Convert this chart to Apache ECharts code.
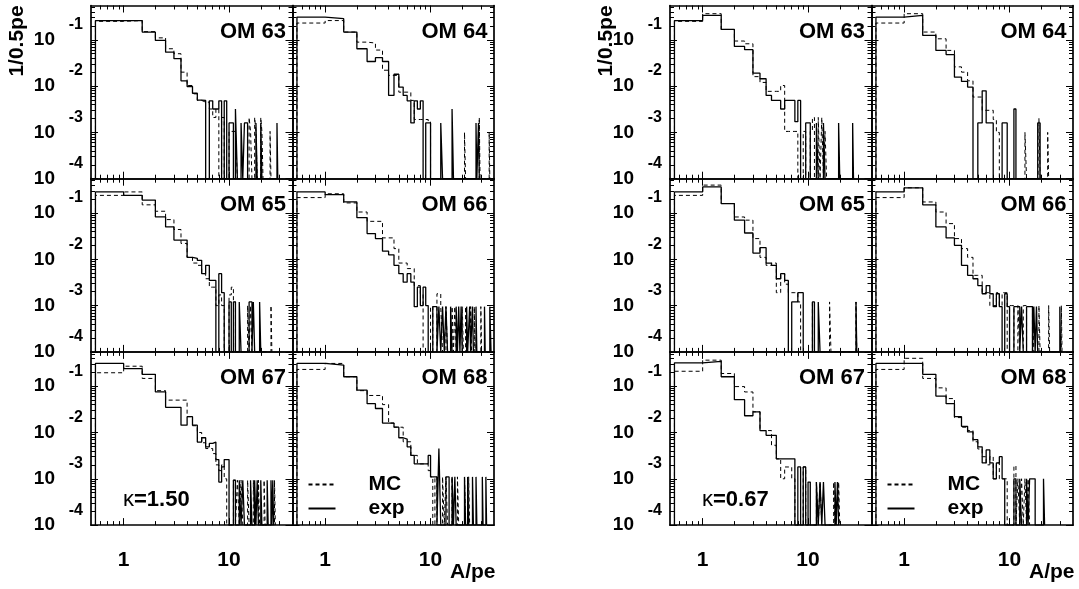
<!DOCTYPE html>
<html>
<head>
<meta charset="utf-8">
<script src="https://cdn.jsdelivr.net/npm/echarts@6/dist/echarts.min.js"></script>
<style>html,body{margin:0;padding:0;background:#fff}#c{width:1079px;height:589px}</style>
</head>
<body>
<div id="c"></div>
<script>
// ---------------- data (bin low edge in pe, entries per 0.5 pe) ----------------
// kappa = 1.50 (left block)
const om63L_exp = [[0.54,0.26],[1,0.26],[1.5,0.147],[2,0.097],[2.5,0.054],[3,0.039],[3.5,0.013],[4,0.0098],[4.5,0.007],[5,0.005],[5.5,0.0049],[6.5,0.0048],[7,0.0032],[7.5,0.0032],[8,0.0048],[9,0.0048],[10,0.0016],[10.5,0.0016],[11.5,0.0032],[13,0.0016],[14,0.0016],[14.5,0.0016],[18,0.0016],[20,0.0016],[28.5,0.0016]];
const om63L_mc  = [[0.54,0.25],[1,0.26],[1.5,0.15],[2,0.11],[2.5,0.064],[3,0.05],[3.5,0.02],[4,0.0103],[4.5,0.0068],[5,0.0049],[5.5,0.0045],[6,0.0045],[6.5,0.0032],[7,0.0021],[7.5,0.0032],[8.5,0.0021],[10,0.00105],[10.5,0.00105],[11,0.00105],[11.5,0.00105],[15.5,0.0021],[16,0.00105],[17.5,0.0021],[18,0.00105],[20,0.0021],[20.5,0.00105],[24.5,0.00105]];
const om64L_exp = [[0.54,0.31],[1,0.285],[1.5,0.147],[2,0.064],[2.5,0.034],[3,0.041],[3.5,0.034],[4,0.0063],[4.5,0.018],[5,0.0095],[5.5,0.0063],[6,0.0048],[6.5,0.0016],[7,0.0048],[7.5,0.0032],[8,0.0048],[9,0.0016],[9.5,0.0016],[12.5,0.0016],[16,0.0032],[27,0.0016],[28.5,0.0016]];
const om64L_mc  = [[0.54,0.23],[1,0.26],[1.5,0.147],[2,0.089],[2.5,0.085],[3,0.06],[3.5,0.022],[4,0.017],[4.5,0.017],[5,0.0074],[5.5,0.0074],[6,0.0074],[6.5,0.0049],[7,0.0019],[7.5,0.0019],[8,0.0019],[8.5,0.0019],[9,0.0019],[9.5,0.0017],[21,0.001],[29,0.0021],[36,0.001]];
const om65L_exp = [[0.54,0.285],[1,0.24],[1.5,0.19],[2,0.082],[2.5,0.05],[3,0.026],[3.5,0.026],[4,0.011],[4.5,0.0105],[5,0.0095],[5.5,0.0049],[6,0.0074],[6.5,0.0035],[7,0.0035],[8,0.0049],[8.5,0.0019],[10,0.0012],[11,0.0012],[12.5,0.0012],[15.5,0.0012],[16,0.0012],[17,0.0012],[19.5,0.0012]];
const om65L_mc  = [[0.54,0.24],[1,0.285],[1.5,0.15],[2,0.109],[2.5,0.072],[3,0.044],[3.5,0.022],[4,0.011],[4.5,0.0083],[5,0.0074],[5.5,0.0049],[6,0.0038],[6.5,0.0025],[7,0.0025],[7.5,0.001],[8,0.0017],[8.5,0.001],[10,0.0017],[10.5,0.0025],[11,0.0012],[15,0.001],[16,0.001],[25,0.001]];
const om66L_exp = [[0.54,0.285],[1,0.25],[1.5,0.173],[2,0.079],[2.5,0.036],[3,0.028],[3.5,0.015],[4,0.0125],[4.5,0.0074],[5,0.0049],[5.5,0.0032],[6,0.0049],[6.5,0.0032],[7,0.00095],[7.5,0.0025],[8,0.001],[8.5,0.0025],[9,0.001],[10.5,0.00095],[11,0.00095],[12,0.00095],[13,0.00095],[14,0.00095],[15.5,0.00095],[17.5,0.00095],[18.5,0.00095],[19.5,0.00095],[22,0.00095],[23.5,0.00095],[25,0.00095],[27,0.00095],[32.5,0.00095],[36.5,0.00095],[37,0.00095]];
const om66L_mc  = [[0.54,0.215],[1,0.26],[1.5,0.165],[2,0.105],[2.5,0.066],[3,0.066],[3.5,0.029],[4,0.029],[4.5,0.017],[5,0.0083],[5.5,0.0083],[6,0.0063],[6.5,0.0063],[7,0.0027],[7.5,0.0027],[8,0.0018],[10,0.00095],[11.5,0.0018],[12,0.0018],[12.5,0.00095],[14,0.00095],[16,0.00095],[17,0.00095],[20,0.00095],[21.5,0.00095],[24,0.00095],[26,0.00095],[30,0.00095]];
const om67L_exp = [[0.54,0.31],[1,0.24],[1.5,0.18],[2,0.075],[2.5,0.035],[3,0.035],[3.5,0.0144],[4,0.022],[4.5,0.0144],[5,0.0062],[5.5,0.0077],[6,0.0049],[6.5,0.0058],[7,0.0062],[7.5,0.0026],[8,0.00085],[8.5,0.0018],[9,0.0026],[9.5,0.0026],[11,0.00093],[12.5,0.00093],[13.5,0.00093],[16,0.00093],[17.5,0.00093],[18.5,0.00093],[20,0.00093],[23,0.00093],[25,0.00093],[26,0.00093]];
const om67L_mc  = [[0.54,0.195],[1,0.27],[1.5,0.147],[2,0.08],[2.5,0.05],[3,0.05],[3.5,0.05],[4,0.022],[4.5,0.014],[5,0.01],[5.5,0.006],[6,0.0045],[6.5,0.0045],[7,0.0035],[7.5,0.002],[8,0.0015],[8.5,0.002],[9,0.001],[11,0.00093],[12,0.00093],[13,0.00093],[15,0.00093],[17,0.00093],[19,0.00093],[21.5,0.00093],[27,0.00093]];
const om68L_exp = [[0.54,0.31],[1,0.285],[1.5,0.16],[2,0.082],[2.5,0.042],[3,0.033],[3.5,0.016],[4,0.016],[4.5,0.013],[5,0.0077],[5.5,0.0072],[6,0.0049],[6.5,0.0032],[7,0.0021],[7.5,0.0021],[8,0.0021],[8.5,0.0021],[9,0.0021],[9.5,0.0032],[10,0.0011],[10.5,0.0011],[11,0.0011],[12,0.0045],[14,0.0011],[14.5,0.0011],[16,0.0011],[17,0.0011],[21,0.0011],[22.5,0.0011],[25,0.0011],[27,0.0011],[31,0.0011],[33.5,0.0011]];
const om68L_mc  = [[0.54,0.23],[1,0.31],[1.5,0.16],[2,0.08],[2.5,0.063],[3,0.063],[3.5,0.04],[4,0.016],[4.5,0.013],[5,0.013],[5.5,0.0063],[6,0.0063],[6.5,0.0032],[7,0.0032],[7.5,0.0021],[8,0.0021],[8.5,0.0021],[9,0.0021],[9.5,0.0015],[10,0.0011],[11,0.0011],[13,0.0011],[14,0.0011],[16,0.0011],[18,0.0011],[21,0.0011],[23,0.0011]];
// kappa = 0.67 (right block)
const om63R_exp = [[0.54,0.26],[1,0.336],[1.5,0.167],[2,0.072],[2.5,0.061],[3,0.019],[3.5,0.0144],[4,0.0063],[4.5,0.0049],[5,0.0049],[5.5,0.0032],[6,0.0049],[6.5,0.0049],[7,0.0049],[7.5,0.0017],[8,0.0049],[9.5,0.0016],[10,0.0016],[12,0.0016],[14,0.0016],[19.5,0.0016],[26.5,0.0016]];
const om63R_mc  = [[0.54,0.25],[1,0.366],[1.5,0.167],[2,0.094],[2.5,0.082],[3,0.016],[3.5,0.012],[4,0.0077],[4.5,0.0077],[5,0.0077],[5.5,0.0103],[6,0.00105],[6.5,0.00105],[7,0.00105],[7.5,0.00105],[9,0.00105],[10.5,0.00105],[11,0.0021],[12.5,0.0021],[13.5,0.0021],[14.5,0.00105]];
const om64R_exp = [[0.54,0.31],[1,0.336],[1.5,0.124],[2,0.059],[2.5,0.048],[3,0.0156],[3.5,0.0126],[4,0.0095],[5,0.0016],[5.5,0.0079],[6,0.0016],[6.5,0.0016],[8.5,0.0016],[9,0.0016],[11,0.0032],[18.5,0.0016],[19,0.0016]];
const om64R_mc  = [[0.54,0.23],[1,0.366],[1.5,0.147],[2,0.105],[2.5,0.059],[3,0.026],[3.5,0.02],[4,0.013],[4.5,0.0058],[5,0.0058],[5.5,0.003],[6,0.003],[6.5,0.003],[7,0.0019],[7.5,0.001],[14,0.001],[19,0.002],[23,0.001]];
const om65R_exp = [[0.54,0.285],[1,0.366],[1.5,0.16],[2,0.07],[2.5,0.037],[3,0.0136],[3.5,0.0178],[4,0.0083],[4.5,0.0074],[5,0.0038],[5.5,0.0049],[6,0.0035],[7,0.0012],[7.5,0.0012],[8,0.0019],[8.5,0.0019],[11,0.0012],[12.5,0.0012],[28.5,0.0012]];
const om65R_mc  = [[0.54,0.24],[1,0.4],[1.5,0.16],[2,0.082],[2.5,0.07],[3,0.028],[3.5,0.011],[4,0.0074],[4.5,0.0083],[5,0.0019],[5.5,0.0049],[6,0.0029],[6.5,0.0019],[7,0.0019],[7.5,0.0019],[8,0.0012],[11,0.0012],[16,0.0012],[28.5,0.0012]];
const om66R_exp = [[0.54,0.285],[1,0.35],[1.5,0.15],[2,0.05],[2.5,0.029],[3,0.02],[3.5,0.0074],[4,0.0045],[4.5,0.0038],[5,0.0027],[5.5,0.0018],[6,0.0027],[6.5,0.0018],[7,0.00095],[7.5,0.0018],[8,0.00095],[9,0.0018],[9.5,0.00095],[11,0.00095],[11.5,0.00095],[12,0.00095],[13,0.00095],[14.5,0.00095],[15,0.00095],[15.5,0.00095],[16,0.00095],[17,0.00095],[18,0.00095],[30,0.00095]];
const om66R_mc  = [[0.54,0.215],[1,0.35],[1.5,0.173],[2,0.105],[2.5,0.059],[3,0.028],[3.5,0.017],[4,0.011],[4.5,0.0045],[5,0.0045],[5.5,0.0019],[6,0.0019],[6.5,0.001],[7,0.001],[7.5,0.0019],[8,0.001],[8.5,0.0019],[9,0.0019],[10,0.001],[10.5,0.001],[12,0.001],[13.5,0.001],[14,0.001],[16.5,0.001],[19,0.001],[23.5,0.001],[31,0.001]];
const om67R_exp = [[0.54,0.32],[1,0.345],[1.5,0.16],[2,0.051],[2.5,0.023],[3,0.028],[3.5,0.011],[4,0.0087],[4.5,0.0087],[5,0.0027],[5.5,0.0027],[6,0.0027],[6.5,0.0027],[7,0.0027],[8,0.0018],[9,0.0018],[10,0.00085],[12,0.00085],[13,0.00085],[14,0.00085],[18,0.00085],[19,0.00085]];
const om67R_mc  = [[0.54,0.21],[1,0.365],[1.5,0.188],[2,0.098],[2.5,0.075],[3,0.028],[3.5,0.011],[4,0.011],[4.5,0.0053],[5,0.0027],[5.5,0.001],[6,0.0018],[6.5,0.0018],[7,0.001],[9,0.0018],[12,0.00085],[13,0.00085],[17.5,0.00085],[19.5,0.00085]];
const om68R_exp = [[0.54,0.31],[1,0.31],[1.5,0.18],[2,0.061],[2.5,0.042],[3,0.022],[3.5,0.0136],[4,0.0103],[4.5,0.007],[5,0.0049],[5.5,0.0022],[6,0.0042],[6.5,0.0022],[7,0.001],[7.5,0.0022],[8,0.003],[8.5,0.001],[11,0.001],[12.5,0.001],[14.5,0.001],[15.5,0.001],[16,0.001],[16.5,0.001],[17,0.001],[21,0.001]];
const om68R_mc  = [[0.54,0.23],[1,0.4],[1.5,0.147],[2,0.092],[2.5,0.054],[3,0.021],[3.5,0.013],[4,0.011],[4.5,0.0063],[5,0.0044],[5.5,0.003],[6,0.002],[6.5,0.003],[7,0.001],[7.5,0.0022],[8,0.001],[8.5,0.001],[9,0.001],[11,0.0019],[12,0.001],[13,0.001],[14,0.001],[15,0.001]];

const panelNames = ['OM 63','OM 64','OM 65','OM 66','OM 67','OM 68'];
const kappaLabels = ['1.50','0.67'];
const seriesNames = ['MC','exp'];
const xMajor = [1, 10];
const xMinor = [0.6,0.7,0.8,0.9,2,3,4,5,6,7,8,9,20,30];
const yMajor = [1e-4, 1e-3, 1e-2, 1e-1];
const yMinor = [2e-4,3e-4,4e-4,5e-4,6e-4,7e-4,8e-4,9e-4,2e-3,3e-3,4e-3,5e-3,6e-3,7e-3,8e-3,9e-3,2e-2,3e-2,4e-2,5e-2,6e-2,7e-2,8e-2,9e-2,0.2,0.3,0.4,0.5];
const X_MIN = 0.49, X_MAX = 40, Y_MIN = 1e-4, Y_MAX = 0.55, BIN_W = 0.5;

const panelData = [
  [[om63L_mc,om63L_exp],[om64L_mc,om64L_exp],[om65L_mc,om65L_exp],[om66L_mc,om66L_exp],[om67L_mc,om67L_exp],[om68L_mc,om68L_exp]],
  [[om63R_mc,om63R_exp],[om64R_mc,om64R_exp],[om65R_mc,om65R_exp],[om66R_mc,om66R_exp],[om67R_mc,om67R_exp],[om68R_mc,om68R_exp]]
];

// ---------------- layout ----------------
const FONT = '"Liberation Sans", Arial, Helvetica, sans-serif';
const GROUP_LEFT = [91, 670];
const YNAME_OFF = [74, 64];
const COL_W = 201.5;
const ROW_TOP = 5.5, ROW_H = 173.2;

function stepPoints(bins) {
  const pts = [];
  let prevHi = null;
  for (const [lo, v] of bins) {
    const hi = Math.floor(lo / BIN_W + 1e-9) * BIN_W + BIN_W;
    if (prevHi === null) pts.push([lo, Y_MIN]);
    else if (Math.abs(lo - prevHi) > 1e-9) { pts.push([prevHi, Y_MIN]); pts.push([lo, Y_MIN]); }
    pts.push([lo, v]); pts.push([hi, v]);
    prevHi = hi;
  }
  pts.push([prevHi, Y_MIN]);
  return pts;
}

const grid = [], xAxis = [], yAxis = [], series = [], graphic = [];
const black = '#000';

function xAx(gi, pos, ticks, len, line, label) {
  xAxis.push({
    type: 'log', logBase: 10, gridIndex: gi, position: pos, min: X_MIN, max: X_MAX,
    axisLine: { show: line, onZero: false, lineStyle: { color: black, width: 1.7 } },
    axisTick: { show: true, inside: true, length: len, customValues: ticks, lineStyle: { color: black, width: 1 } },
    axisLabel: label || { show: false },
    splitLine: { show: false }, minorTick: { show: false }, silent: true
  });
  return xAxis.length - 1;
}
function yAx(gi, pos, ticks, len, line, label) {
  yAxis.push({
    type: 'log', logBase: 10, gridIndex: gi, position: pos, min: Y_MIN, max: Y_MAX,
    axisLine: { show: line, onZero: false, lineStyle: { color: black, width: 1.7 } },
    axisTick: { show: ticks !== null, inside: true, length: len, customValues: ticks || [], lineStyle: { color: black, width: 1 } },
    axisLabel: label || { show: false },
    splitLine: { show: false }, minorTick: { show: false }, silent: true
  });
  return yAxis.length - 1;
}

for (let g = 0; g < 2; g++) {
  for (let p = 0; p < 6; p++) {
    const r = Math.floor(p / 2), c = p % 2;
    const left = GROUP_LEFT[g] + c * COL_W, top = ROW_TOP + r * ROW_H;
    const gi = grid.length;
    grid.push({ left: left, top: top, width: COL_W, height: ROW_H, show: false });
    const xLabel = r === 2 ? {
      show: true, customValues: xMajor, formatter: v => String(Math.round(v)),
      fontSize: 21, fontWeight: 'bold', color: black, fontFamily: FONT, margin: 25,
      hideOverlap: false, showMinLabel: true, showMaxLabel: true
    } : null;
    const xi = xAx(gi, 'bottom', xMajor, 7, true, xLabel);
    xAx(gi, 'bottom', xMinor, 4, false);
    xAx(gi, 'top', xMajor, 7, true);
    xAx(gi, 'top', xMinor, 4, false);
    const yLabel = c === 0 ? {
      show: true, customValues: yMajor, formatter: () => '10',
      fontSize: 19, fontWeight: 'bold', color: black, fontFamily: FONT, margin: 36,
      hideOverlap: false, showMinLabel: true, showMaxLabel: true
    } : null;
    const yi = yAx(gi, 'left', yMajor, 7, true, yLabel);
    yAx(gi, 'left', yMinor, 4, false);
    yAx(gi, 'right', yMajor, 7, true);
    yAx(gi, 'right', yMinor, 4, false);
    if (c === 0) {
      yAx(gi, 'left', null, 0, false, {
        show: true, customValues: yMajor,
        formatter: v => String(Math.round(Math.log10(v))),
        fontSize: 16, fontWeight: 'bold', color: black, fontFamily: FONT, margin: 8,
        lineHeight: 16, verticalAlign: 'bottom', padding: [0, 0, 7, 0],
        hideOverlap: false, showMinLabel: true, showMaxLabel: true
      });
    }
    const [mc, ex] = panelData[g][p];
    series.push({
      name: seriesNames[0], type: 'line', xAxisIndex: xi, yAxisIndex: yi, data: stepPoints(mc),
      showSymbol: false, symbol: 'none', clip: true, silent: true, animation: false,
      lineStyle: { color: black, width: 1, type: [4, 3] }, itemStyle: { color: black }
    });
    series.push({
      name: seriesNames[1], type: 'line', xAxisIndex: xi, yAxisIndex: yi, data: stepPoints(ex),
      showSymbol: false, symbol: 'none', clip: true, silent: true, animation: false,
      lineStyle: { color: black, width: 1.3, type: 'solid' }, itemStyle: { color: black }
    });
    graphic.push({
      type: 'text', x: left + COL_W - 6.5, y: top + 26, silent: true,
      style: { text: panelNames[p], fill: black, font: 'bold 22px ' + FONT, align: 'right', verticalAlign: 'middle' }
    });
  }
  const gl = GROUP_LEFT[g];
  graphic.push({
    type: 'text', x: gl + 32, y: ROW_TOP + 2 * ROW_H + 148.5, silent: true,
    style: {
      text: '{k|κ}{n|=' + kappaLabels[g] + '}', fill: black, align: 'left', verticalAlign: 'middle',
      rich: { k: { font: '22px ' + FONT, fill: black }, n: { font: 'bold 22px ' + FONT, fill: black } }
    }
  });
  graphic.push({
    type: 'text', x: gl + COL_W + 157.5, y: 572, silent: true,
    style: { text: 'A/pe', fill: black, font: 'bold 21px ' + FONT, align: 'left', verticalAlign: 'middle' }
  });
  graphic.push({
    type: 'text', x: gl - YNAME_OFF[g], y: 41, rotation: Math.PI / 2, silent: true,
    style: { text: '1/0.5pe', fill: black, font: 'bold 21px ' + FONT, align: 'center', verticalAlign: 'middle' }
  });
}

const legend = GROUP_LEFT.map(gl => ({
  data: seriesNames, orient: 'vertical', left: gl + COL_W + 15, top: 474, padding: 0,
  itemWidth: 27, itemHeight: 10, itemGap: 3, selectedMode: false,
  itemStyle: { opacity: 0 },
  textStyle: { fontSize: 21, fontWeight: 'bold', color: black, fontFamily: FONT, lineHeight: 21, padding: [0, 0, 0, 28] }
}));

const chart = echarts.init(document.getElementById('c'), null, { renderer: 'canvas' });
chart.setOption({
  animation: false, backgroundColor: '#fff',
  grid, xAxis, yAxis, series, graphic, legend
});
</script>
</body>
</html>
